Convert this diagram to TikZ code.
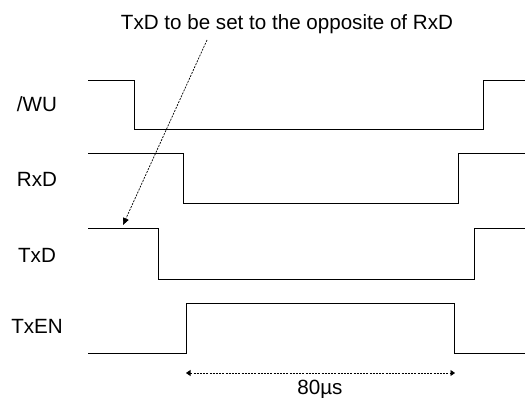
\documentclass[tikz,border=0pt]{standalone}
\usepackage{fontspec}
\setmainfont{Liberation Sans}
\usetikzlibrary{arrows.meta}

\begin{document}
\begin{tikzpicture}[
  x=1pt, y=-1pt,
  font=\fontsize{20.6}{24}\selectfont,
  wave/.style={line width=0.9pt, line join=miter},
  lbl/.style={anchor=base, inner sep=0pt},
  note/.style={line width=0.7pt, dash pattern=on 2pt off 1.2pt, -{Triangle[length=7pt, width=6pt]}},
  span/.style={line width=0.7pt, dash pattern=on 2pt off 1.2pt, {Triangle[length=4.5pt, width=6pt]}-{Triangle[length=4.5pt, width=6pt]}}
]
\useasboundingbox (0,0) rectangle (525,398);
\node[lbl] (note) at (287,30) {TxD to be set to the opposite of RxD};
\node[lbl] (wu) at (37,112) {/WU};
\node[lbl] (rxd) at (37,187) {RxD};
\node[lbl] (txd) at (37,262) {TxD};
\node[lbl] (txen) at (37,334) {TxEN};
\draw[wave] (88,80) -- (134,80) -- (134,129) -- (483,129) -- (483,80) -- (525,80);
\draw[wave] (88,153) -- (183,153) -- (183,203) -- (458,203) -- (458,153) -- (525,153);
\draw[wave] (88,228) -- (158,228) -- (158,279) -- (474,279) -- (474,228) -- (525,228);
\draw[wave] (88,353) -- (186,353) -- (186,303) -- (454,303) -- (454,353) -- (525,353);
% annotation and 80us span
\coordinate (notefoot) at (207,40);
\coordinate (notetip) at (123,225);
\draw[note] (notefoot) -- (notetip);
\coordinate (t0) at (186,373);
\coordinate (t1) at (455,373);
\draw[span] (t0) -- (t1);
\node[lbl] (dur) at (320,394) {80µs};
\end{tikzpicture}
\end{document}
